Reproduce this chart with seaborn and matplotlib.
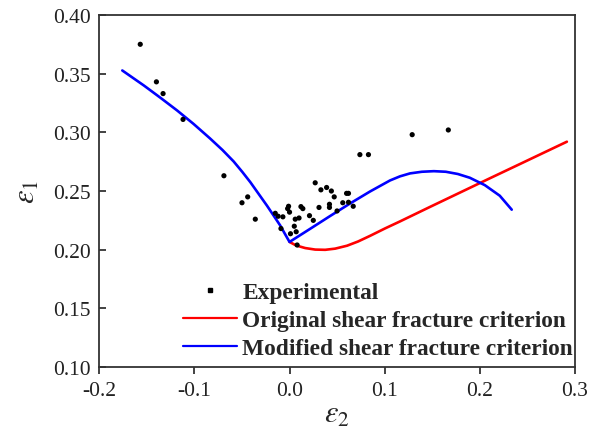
import numpy as np
import pandas as pd
import matplotlib
matplotlib.use("Agg")
import matplotlib.pyplot as plt
from matplotlib.lines import Line2D
import seaborn as sns

# Experimental points
exp_e2 = [-0.157, -0.140, -0.133, -0.112, -0.069, -0.044, -0.050, -0.036,
          -0.015, -0.012, -0.007, -0.009, -0.001, -0.002, 0.000, 0.001,
          0.007, 0.005, 0.006, 0.010, 0.012, 0.014, 0.008, 0.021, 0.025,
          0.027, 0.033, 0.039, 0.044, 0.031, 0.042, 0.042, 0.047, 0.050,
          0.056, 0.060, 0.062, 0.062, 0.067, 0.074, 0.083, 0.129, 0.167]
exp_e1 = [0.375, 0.343, 0.333, 0.311, 0.263, 0.245, 0.240, 0.226,
          0.231, 0.2285, 0.228, 0.218, 0.237, 0.235, 0.232, 0.2136,
          0.2153, 0.220, 0.226, 0.227, 0.2367, 0.235, 0.204, 0.229, 0.225,
          0.257, 0.251, 0.253, 0.250, 0.236, 0.2387, 0.236, 0.245, 0.233,
          0.240, 0.248, 0.248, 0.2404, 0.237, 0.281, 0.281, 0.298, 0.302]

# Original shear fracture criterion (red)
orig_e2 = [0.000, 0.0070, 0.0165, 0.0270, 0.0375, 0.0480, 0.0605, 0.0721,
           0.0847, 0.1004, 0.1162, 0.1476, 0.1791, 0.2106, 0.2421, 0.2683,
           0.2917]
orig_e1 = [0.2066, 0.2036, 0.2014, 0.2001, 0.1999, 0.2009, 0.2034, 0.2070,
           0.2118, 0.2181, 0.2241, 0.2364, 0.2486, 0.2608, 0.2729, 0.2830,
           0.2920]

# Modified shear fracture criterion (blue)
mod_e2 = [-0.1759, -0.1532, -0.1357, -0.1182, -0.1010, -0.0839, -0.0706,
          -0.0588, -0.0496, -0.0412, -0.0328, -0.0237, -0.0161, -0.0097,
          -0.0045, 0.0000, 0.0217, 0.0427, 0.0637, 0.0847, 0.1057, 0.1162,
          0.1267, 0.1392, 0.1518, 0.1644, 0.1770, 0.1896, 0.2054, 0.2211,
          0.2337]
mod_e1 = [0.3527, 0.3399, 0.3294, 0.3186, 0.3072, 0.2950, 0.2850,
          0.2752, 0.2662, 0.2575, 0.2479, 0.2375, 0.2283, 0.2205,
          0.2130, 0.2066, 0.2178, 0.2287, 0.2394, 0.2496, 0.2590, 0.2625,
          0.2650, 0.2664, 0.2669, 0.2664, 0.2645, 0.2613, 0.2550, 0.2460,
          0.2341]

legend_labels = ["Experimental", "Original shear fracture criterion",
                 "Modified shear fracture criterion"]

sns.set_style("ticks")
plt.rcParams["font.family"] = ["Liberation Serif", "DejaVu Serif"]
plt.rcParams["mathtext.fontset"] = "stix"

fig = plt.figure(figsize=(5.95, 4.31), dpi=100)
ax = fig.add_axes([0.167, 0.146, 0.799, 0.817])

df_exp = pd.DataFrame({"e2": exp_e2, "e1": exp_e1})
df_orig = pd.DataFrame({"e2": orig_e2, "e1": orig_e1})
df_mod = pd.DataFrame({"e2": mod_e2, "e1": mod_e1})

sns.lineplot(data=df_orig, x="e2", y="e1", color="#ff0000", lw=1.9,
             sort=False, estimator=None, ax=ax, zorder=2)
sns.lineplot(data=df_mod, x="e2", y="e1", color="#0000ff", lw=1.9,
             sort=False, estimator=None, ax=ax, zorder=3)
sns.scatterplot(data=df_exp, x="e2", y="e1", color="black", s=14,
                edgecolor="none", ax=ax, zorder=4)

ax.set_xlim(-0.2, 0.3)
ax.set_ylim(0.10, 0.40)
ax.set_xticks([-0.2, -0.1, 0.0, 0.1, 0.2, 0.3])
ax.set_xticklabels(["-0.2", "-0.1", "0.0", "0.1", "0.2", "0.3"])
ax.set_yticks([0.10, 0.15, 0.20, 0.25, 0.30, 0.35, 0.40])
ax.set_yticklabels(["0.10", "0.15", "0.20", "0.25", "0.30", "0.35", "0.40"])
ax.tick_params(axis="x", direction="out", length=5, width=1.2, labelsize=15.5,
               pad=5, colors="#222222")
ax.tick_params(axis="y", direction="in", length=5, width=1.2, labelsize=15.5,
               pad=6, colors="#222222")
for sp in ax.spines.values():
    sp.set_linewidth(1.3)
    sp.set_color("#333333")

ax.set_xlabel(r"$\varepsilon_2$", fontsize=22, labelpad=0)
ax.set_ylabel(r"$\varepsilon_1$", fontsize=22, labelpad=8)

handles = [
    Line2D([], [], ls="none", marker="s", ms=3.2, color="black"),
    Line2D([], [], color="#ff0000", lw=1.6),
    Line2D([], [], color="#0000ff", lw=1.6),
]
fig.legend(handles, legend_labels, loc="upper left",
           bbox_to_anchor=(183 / 595, 1 - 283 / 431),
           bbox_transform=fig.transFigure, frameon=False,
           prop={"family": ["Liberation Serif"], "weight": "bold", "size": 16.8},
           handlelength=2.3, handletextpad=0.25, labelspacing=0.28,
           borderpad=0, borderaxespad=0)

fig.savefig("out.png", dpi=100)
